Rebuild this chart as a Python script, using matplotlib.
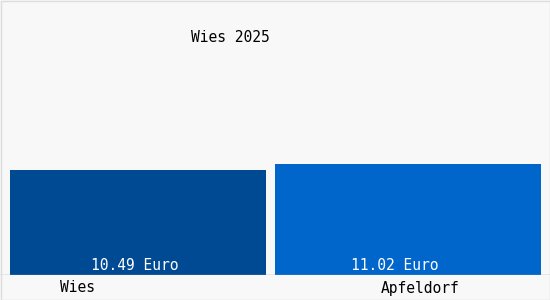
import matplotlib.pyplot as plt

# values
towns = ["Wies", "Apfeldorf"]
prices = [10.49, 11.02]
value_labels = ["10.49 Euro", "11.02 Euro"]
title = "Wies 2025"

bar_colors = ["#004a94", "#0066cc"]
bar_widths = [256 / 270, 266 / 270]
bg = "#f8f8f8"
font = "DejaVu Sans Mono"
fs = 10.5

fig = plt.figure(figsize=(5.5, 3.0), dpi=100, facecolor=bg)
# axes area covers the upper part of the picture down to the baseline (y=275 px)
ax = fig.add_axes([0, 25 / 300, 1, 275 / 300])
ax.set_facecolor(bg)

pos = [0, 1]
ax.bar(pos, prices, width=bar_widths, color=bar_colors, align="center")
ax.set_xlim(-138 / 270, 412 / 270)
ax.set_ylim(0, 275 / 10.04)

for p, lab, dx in zip(pos, value_labels, [-3 / 270, -13 / 270]):
    ax.text(p + dx, 0.2, lab, ha="center", va="bottom", color="white",
            family=font, fontsize=fs)

for sp in ax.spines.values():
    sp.set_visible(False)
ax.axhline(0, color="#999999", lw=1)
ax.set_xticks([])
ax.set_yticks([])

# category labels below the baseline
fig.text(77.5 / 550, 1 - 288 / 300, towns[0], ha="center", va="center",
         family=font, fontsize=fs)
fig.text(420 / 550, 1 - 288 / 300, towns[1], ha="center", va="center",
         family=font, fontsize=fs)
fig.text(230 / 550, 1 - 38 / 300, title, ha="center", va="center",
         family=font, fontsize=fs)

# thin frame around the picture
frame = plt.Rectangle((0.5 / 550, 0.5 / 300), 549 / 550, 299 / 300,
                      transform=fig.transFigure, fill=False,
                      edgecolor="#dddddd", lw=1)
fig.patches.append(frame)

fig.savefig("out.png", dpi=100, facecolor=bg)
